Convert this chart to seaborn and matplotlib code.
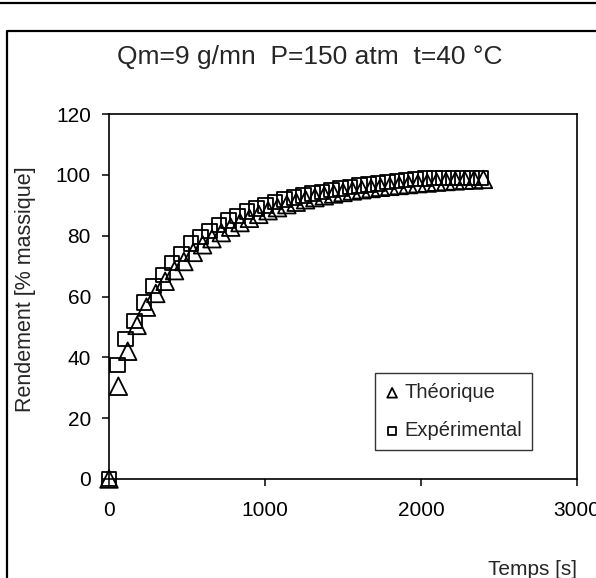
import pandas as pd
import matplotlib
matplotlib.use("Agg")
import matplotlib.pyplot as plt
import seaborn as sns
from matplotlib.lines import Line2D

# Values
temps_theo = [0, 60, 120, 180, 240, 300, 360, 420, 480, 540, 600, 660, 720, 780,
              840, 900, 960, 1020, 1080, 1140, 1200, 1260, 1320, 1380, 1440, 1500,
              1560, 1620, 1680, 1740, 1800, 1860, 1920, 1980, 2040, 2100, 2160,
              2220, 2280, 2340, 2400]
rend_theo = [0, 30.5, 42, 50.5, 56.5, 61, 65, 68.5, 71.5, 74.5, 77, 79, 81, 82.8,
             84.3, 85.7, 87, 88.2, 89.2, 90.2, 91, 91.8, 92.5, 93.1, 93.7, 94.2,
             94.7, 95.1, 95.5, 95.9, 96.2, 96.5, 96.8, 97.1, 97.3, 97.6, 97.8,
             98.0, 98.2, 98.3, 98.5]

temps_exp = [0, 53, 105, 165, 225, 285, 345, 405, 465, 525, 585, 645, 705, 765,
             825, 885, 945, 1005, 1065, 1125, 1185, 1245, 1305, 1365, 1425, 1485,
             1545, 1605, 1665, 1725, 1785, 1845, 1905, 1965, 2025, 2085, 2145,
             2205, 2265, 2325, 2385]
rend_exp = [0, 37.5, 46, 52, 58, 63.5, 67, 71, 74, 77.5, 79.5, 81.5, 83.5, 85,
            86.5, 88, 89, 90, 91, 91.8, 92.5, 93.2, 93.8, 94.4, 95, 95.5, 96,
            96.4, 96.8, 97.2, 97.6, 98, 98.3, 98.6, 98.8, 99, 99, 99, 99, 99, 99]

x_ticks = [0, 1000, 2000, 3000]
y_ticks = [0, 20, 40, 60, 80, 100, 120]

theo = pd.DataFrame({'Temps': temps_theo, 'Rendement': rend_theo})
exp = pd.DataFrame({'Temps': temps_exp, 'Rendement': rend_exp})

sns.set_style('ticks')
plt.rcParams['font.family'] = ['Liberation Sans', 'DejaVu Sans']

fig = plt.figure(figsize=(5.96, 5.78), dpi=100)
ax = fig.add_axes([109 / 596, 1 - 479 / 578, 468 / 596, 365 / 578])

# hollow markers, black edges
sns.scatterplot(x='Temps', y='Rendement', data=theo, marker='^', s=160,
                facecolors='none', edgecolor='black', linewidth=1.3,
                label='Théorique', ax=ax, zorder=3, clip_on=False)
sns.scatterplot(x='Temps', y='Rendement', data=exp, marker='s', s=110,
                facecolors='none', edgecolor='black', linewidth=1.3,
                label='Expérimental', ax=ax, zorder=3, clip_on=False)

ax.set_xlim(0, 3000)
ax.set_ylim(0, 120)
ax.set_xticks(x_ticks)
ax.set_yticks(y_ticks)
ax.tick_params(direction='out', length=5, width=1.1, labelsize=15, colors='black')
ax.tick_params(axis='x', pad=11)
ax.tick_params(axis='y', pad=8)
for sp in ax.spines.values():
    sp.set_visible(True)
    sp.set_linewidth(1.2)
    sp.set_color('black')

ax.set_xlabel('Temps [s]', fontsize=15, ha='right')
ax.xaxis.set_label_coords(1.0, -0.222)
ax.set_ylabel('Rendement [% massique]', fontsize=15.5)
ax.yaxis.set_label_coords(-0.156, 0.52)

leg = ax.legend(loc='upper left', bbox_to_anchor=((375 - 109) / 468, (479 - 373) / 365),
                fontsize=14.5, markerscale=0.55, frameon=True, fancybox=False,
                handletextpad=0.25, handlelength=0.7, borderpad=0.5, labelspacing=0.95,
                borderaxespad=0)
leg.get_frame().set_edgecolor('black')
leg.get_frame().set_linewidth(1.0)

fig.text(310 / 596, 1 - 57 / 578, 'Qm=9 g/mn  P=150 atm  t=40 °C',
         fontsize=19, ha='center', va='center')

# outer frame and top rule
fig.add_artist(Line2D([7 / 596, 7 / 596, 1.0], [0, 1 - 31 / 578, 1 - 31 / 578],
                      transform=fig.transFigure, color='black', lw=1.6))
fig.add_artist(Line2D([0, 1], [1 - 3 / 578, 1 - 3 / 578],
                      transform=fig.transFigure, color='black', lw=1.6))

fig.savefig('out.png', dpi=100, facecolor='white')
